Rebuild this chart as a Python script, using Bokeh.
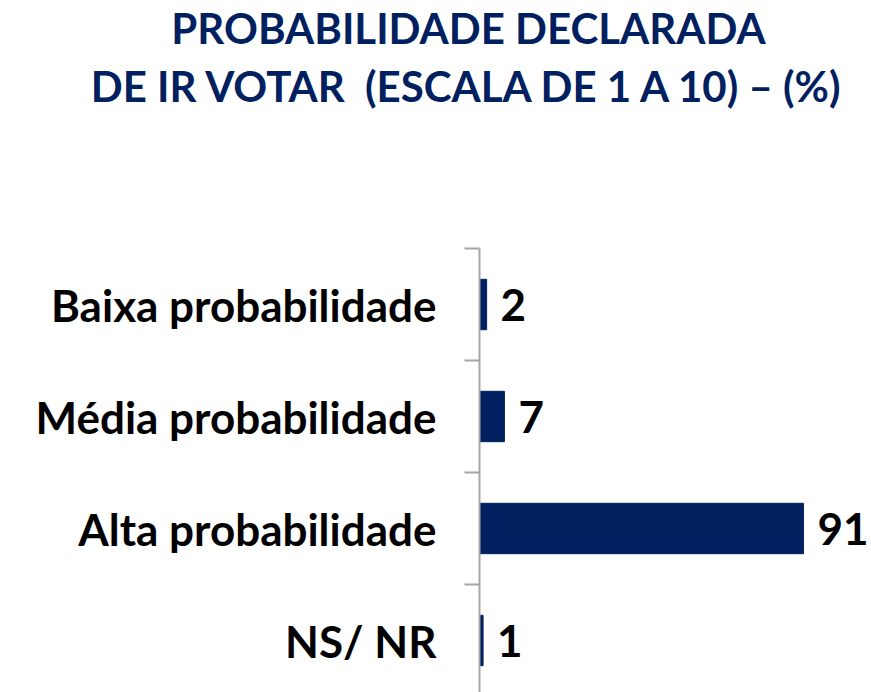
from bokeh.plotting import figure
from bokeh.models import Range1d, LinearAxis, FixedTicker, Label, ColumnDataSource
from bokeh.core.properties import value
from bokeh.embed import file_html
from bokeh.resources import INLINE

# ---- data ----
categories = ["Baixa probabilidade", "Média probabilidade", "Alta probabilidade", "NS/ NR"]
values = [2, 7, 91, 1]
title_lines = ["PROBABILIDADE DECLARADA", "DE IR VOTAR\u00a0 (ESCALA DE 1 A 10) – (%)"]

NAVY = "#002060"
FONT = "Lato"

W, H = 871, 692
AXIS_X = 479          # pixel position of value 0
PX_PER_UNIT = 3.56
BAND = 112            # pixels per category
TOP = 248             # pixel of top of first band

x_start = -AXIS_X / PX_PER_UNIT
x_end = (W - AXIS_X) / PX_PER_UNIT
y_top = -0.5 - TOP / BAND
y_bottom = -0.5 + (H - TOP) / BAND

p = figure(width=W, height=H, output_backend="svg", toolbar_location=None,
           x_range=Range1d(x_start, x_end), y_range=Range1d(y_bottom, y_top),
           min_border=0, x_axis_type=None, y_axis_type=None)
p.outline_line_color = None
p.xgrid.visible = False
p.ygrid.visible = False
p.background_fill_color = "white"
p.border_fill_color = "white"

idx = list(range(len(categories)))
src = ColumnDataSource(dict(y=idx, v=values, lab=[str(v) for v in values], cat=categories))

p.hbar(y="y", left=0, right="v", height=0.45, source=src, fill_color=NAVY, line_color=NAVY)

p.text(x="v", y="y", text="lab", source=src, x_offset=14, text_baseline="middle",
       text_align="left", text_font=value(FONT), text_font_style="bold",
       text_font_size="44px", text_color="black")

# category axis drawn at value 0
ax = LinearAxis(fixed_location=0, bounds=(-0.5, len(categories) - 0.5))
ax.ticker = FixedTicker(ticks=idx, minor_ticks=[i - 0.5 for i in range(len(categories) + 1)])
ax.major_label_overrides = {i: c for i, c in zip(idx, categories)}
ax.major_tick_in = 0
ax.major_tick_out = 0
ax.minor_tick_in = 0
ax.minor_tick_out = 15
ax.minor_tick_line_color = "#A6A6A6"
ax.minor_tick_line_width = 2
ax.axis_line_color = "#A6A6A6"
ax.axis_line_width = 2
ax.major_label_standoff = 28
ax.major_label_text_font = FONT
ax.major_label_text_font_style = "bold"
ax.major_label_text_font_size = "44px"
ax.major_label_text_color = "black"
p.add_layout(ax, "left")

for i, t in enumerate(title_lines):
    p.add_layout(Label(x=468, y=H - 27 - 58 * i, x_units="screen", y_units="screen",
                       text=t, text_align="center", text_baseline="middle",
                       text_font=FONT, text_font_style="bold", text_font_size="42px",
                       text_color=NAVY))

open("out.html", "w").write(file_html(p, INLINE))
